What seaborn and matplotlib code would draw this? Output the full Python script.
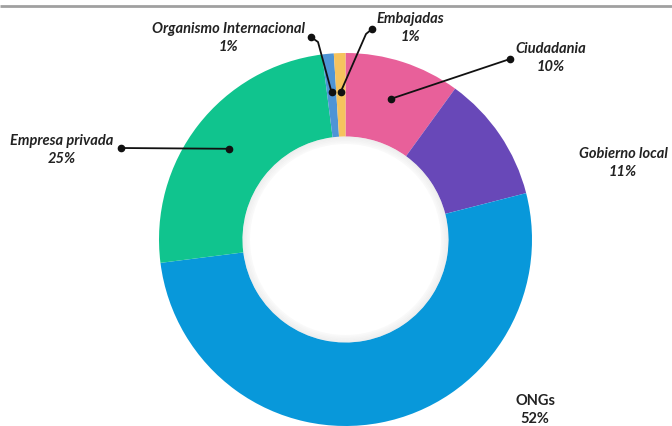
import numpy as np
import matplotlib
matplotlib.use("Agg")
import matplotlib.pyplot as plt
from matplotlib.patches import Wedge
import seaborn as sns

# slices, clockwise from 12 o'clock
labels = ["Ciudadania", "Gobierno local", "ONGs", "Empresa privada",
          "Organismo Internacional", "Embajadas"]
shares = [10, 11, 52, 25, 1, 1]
colors = ["#E8609A", "#6848B8", "#0898DA", "#10C48E", "#4E94D6", "#F5C35E"]

sns.set_theme(style="white")
plt.rcParams["font.family"] = ["Lato", "DejaVu Sans"]

W, H = 672, 426
fig = plt.figure(figsize=(W / 100, H / 100), dpi=100)
ax = fig.add_axes([0, 0, 1, 1])

cx, cy, R, hole = 345.5, H - 239.5, 186.5, 103
wedges, _ = ax.pie(shares, colors=colors, startangle=90, counterclock=False,
                   radius=R, center=(cx, cy),
                   wedgeprops=dict(width=R - hole, edgecolor="none"))

# faint shadow just inside the hole edge
for k in range(5):
    ax.add_patch(Wedge((cx, cy), hole - k * 1.5, 0, 360, width=1.5,
                       color="#cfcfcf", alpha=0.35 - k * 0.06, lw=0))

ax.set_xlim(0, W)
ax.set_ylim(0, H)
ax.set_aspect("equal")
ax.axis("off")

# thin rule along the top
ax.plot([0, W], [H - 6, H - 6], color="#a0a0a0", lw=2, solid_capstyle="butt")


def anchor(i, r=148):
    w = wedges[i]
    a = np.deg2rad((w.theta1 + w.theta2) / 2)
    return cx + r * np.cos(a), cy + r * np.sin(a)


# label text centres (pixel rows from top) and leader paths from the label end
txt_pos = {
    "Ciudadania": (551, 58),
    "Gobierno local": (623, 163),
    "ONGs": (535, 410),
    "Empresa privada": (62, 150),
    "Organismo Internacional": (228, 38),
    "Embajadas": (410, 28),
}
leaders = {
    "Ciudadania": [(510, 59)],
    "Empresa privada": [(121, 148)],
    "Organismo Internacional": [(311, 37), (318, 42)],
    "Embajadas": [(372, 29), (366, 34)],
}

for i, (lab, val) in enumerate(zip(labels, shares)):
    tx, ty = txt_pos[lab]
    style = "normal" if lab == "ONGs" else "italic"
    ax.text(tx, H - ty, f"{lab}\n{val}%", ha="center", va="center",
            fontsize=10.5, fontweight="bold", fontstyle=style, color="#222222",
            linespacing=1.3)
    if lab in leaders:
        pts = [(x, H - y) for x, y in leaders[lab]] + [anchor(i)]
        xs, ys = zip(*pts)
        ax.plot(xs, ys, color="#111111", lw=1.3)
        ax.plot([xs[0], xs[-1]], [ys[0], ys[-1]], "o", color="#111111", ms=4.5)

fig.savefig("out.png", dpi=100)
